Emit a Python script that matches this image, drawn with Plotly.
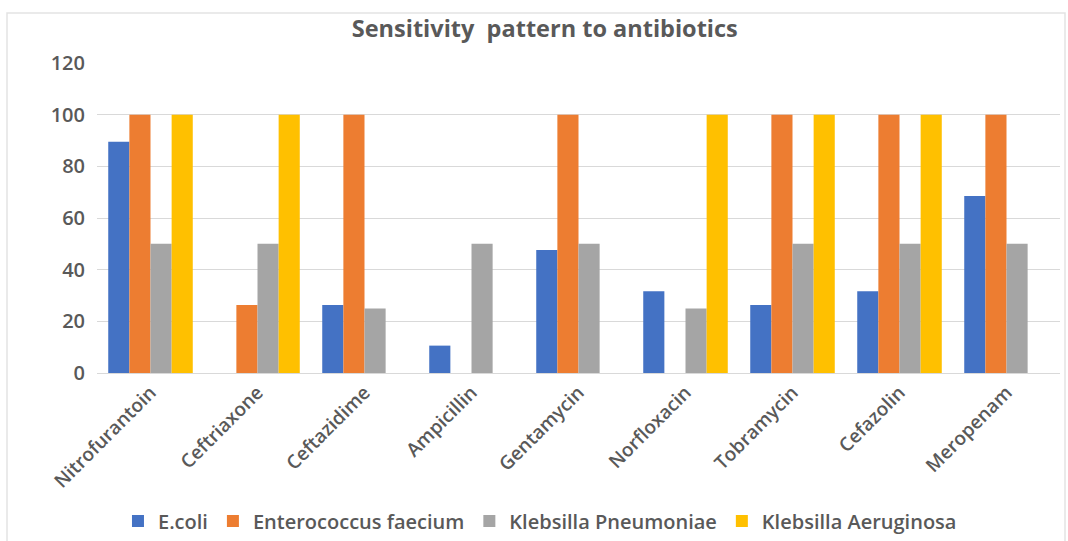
import plotly.graph_objects as go

# Antibiotic sensitivity (%) by organism
antibiotics = ["Nitrofurantoin", "Ceftriaxone", "Ceftazidime", "Ampicillin",
               "Gentamycin", "Norfloxacin", "Tobramycin", "Cefazolin", "Meropenam"]
e_coli = [89.5, 0, 26.3, 10.6, 47.6, 31.6, 26.3, 31.6, 68.5]
enterococcus_faecium = [100, 26.3, 100, 0, 100, 0, 100, 100, 100]
klebsilla_pneumoniae = [50, 50, 25, 50, 50, 25, 50, 50, 50]
klebsilla_aeruginosa = [100, 100, 0, 0, 0, 100, 100, 100, 0]
y_ticks = [0, 20, 40, 60, 80, 100, 120]

series = [
    ("E.coli", e_coli, "#4472C4"),
    ("Enterococcus faecium", enterococcus_faecium, "#ED7D31"),
    ("Klebsilla Pneumoniae", klebsilla_pneumoniae, "#A5A5A5"),
    ("Klebsilla Aeruginosa", klebsilla_aeruginosa, "#FFC000"),
]

FONT = "Open Sans"
TXT = "#595959"

fig = go.Figure()
for name, vals, color in series:
    fig.add_trace(go.Bar(
        name=name, x=antibiotics, y=vals,
        marker=dict(color=color, line=dict(width=0)),
    ))

W, H = 1068, 541
ml, mr, mt, mb = 97, 8, 63, 168

fig.update_layout(
    width=W, height=H,
    margin=dict(l=ml, r=mr, t=mt, b=mb, autoexpand=False),
    paper_bgcolor="white",
    plot_bgcolor="white",
    barmode="group",
    bargap=0.21,
    bargroupgap=0,
    title=dict(
        text="<b>Sensitivity\u00a0 pattern to antibiotics</b>",
        x=0.465, xanchor="center", xref="paper",
        y=1 - 29 / H, yanchor="middle", yref="container",
        font=dict(family=FONT, size=23.5, color=TXT),
    ),
    legend=dict(
        orientation="h",
        x=0.46, xanchor="center",
        y=-(521 - 373) / (373 - 63), yanchor="middle",
        font=dict(family=FONT, size=20, color=TXT, weight=600),
        itemwidth=30,
        traceorder="normal",
    ),
    xaxis=dict(
        tickangle=-45,
        tickfont=dict(family=FONT, size=19, color=TXT, weight=600),
        showline=True, linecolor="#D9D9D9", linewidth=1,
        ticks="",
        automargin=False,
    ),
    yaxis=dict(
        range=[0, 120],
        tickvals=y_ticks,
        tickfont=dict(family=FONT, size=20, color=TXT, weight=600),
        showgrid=True, gridcolor="#D9D9D9", gridwidth=1,
        zeroline=False,
        ticks="", ticklen=0,
        ticklabelstandoff=11,
        automargin=False,
    ),
    shapes=[dict(
        type="rect", xref="paper", yref="paper",
        x0=-(ml - 7) / (W - ml - mr), x1=1 + (mr - 3) / (W - ml - mr),
        y0=-(mb + 20) / (H - mt - mb), y1=1 + (mt - 13) / (H - mt - mb),
        line=dict(color="#E3E3E3", width=1.5),
        fillcolor="rgba(0,0,0,0)", layer="below",
    )],
)

fig.write_html("out.html")
